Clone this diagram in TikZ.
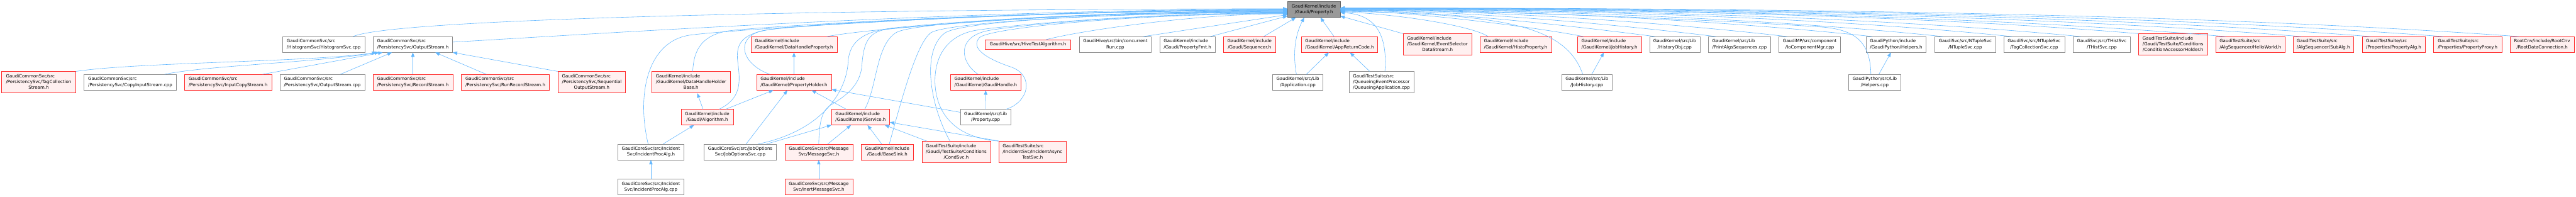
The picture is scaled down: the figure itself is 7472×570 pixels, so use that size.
\documentclass[tikz,border=0pt]{standalone}
\usepackage{fontspec}
\setmainfont{DejaVu Sans}
\usetikzlibrary{arrows.meta,calc}
\definecolor{edgec}{HTML}{63B8FF}
\definecolor{redd}{HTML}{FF2A2A}
\definecolor{redf}{HTML}{FFF0F0}
\definecolor{grayd}{HTML}{8C8C8C}
\definecolor{rootf}{HTML}{999999}
\definecolor{rootd}{HTML}{666666}
\newcommand\nlab[2]{\begin{tabular}{@{}l@{}}#1\\\multicolumn{1}{@{}c@{}}{#2}\end{tabular}}
\newcommand\farR[3]{\draw[edge] let \p1=(#1), \p2=([yshift=#2pt]P.east), \n1={0.3*(\x1-\x2)} in (\p1) .. controls +(-\n1,#3) and +(\n1,0) .. (\p2);}
\tikzset{
  nbox/.style={rectangle, draw, line width=1.1pt, inner sep=0pt, minimum height=45pt, font=\fontsize{12.8pt}{17pt}\selectfont, text=black},
  redn/.style={nbox, draw=redd, fill=redf},
  grayn/.style={nbox, draw=grayd, fill=white},
  rootn/.style={nbox, draw=rootd, fill=rootf},
  edge/.style={draw=edgec, line width=1.1pt, -{Triangle[length=13pt,width=10pt]}},
}
\begin{document}
\begin{tikzpicture}[x=1pt,y=1pt]
\fill[white] (0,0) rectangle (7472,570);
\useasboundingbox (0,0) rectangle (7472,570);
% root
\node[rootn, minimum width=152pt] (P) at (3811,542.5) {\nlab{GaudiKernel/include}{/Gaudi/Property.h}};
% row 1
\node[grayn, minimum width=238.4pt] (hsvc) at (938.8,441) {\nlab{GaudiCommonSvc/src}{/HistogramSvc/HistogramSvc.cpp}};
\node[grayn, minimum width=230.3pt] (osh) at (1197.5,441) {\nlab{GaudiCommonSvc/src}{/PersistencySvc/OutputStream.h}};
\node[redn, minimum width=250pt] (dhp) at (2303,441) {\nlab{GaudiKernel/include}{/GaudiKernel/DataHandleProperty.h}};
\node[redn, minimum width=248pt, minimum height=27.5pt] (hive) at (2981.6,441) {GaudiHive/src/HiveTestAlgorithm.h};
\node[grayn, minimum width=209pt] (crun) at (3235.1,441) {\nlab{GaudiHive/src/bin/concurrent}{Run.cpp}};
\node[grayn, minimum width=160.5pt] (pfmt) at (3444.2,441) {\nlab{GaudiKernel/include}{/Gaudi/PropertyFmt.h}};
\node[redn, minimum width=151.4pt] (seq) at (3624.3,441) {\nlab{GaudiKernel/include}{/Gaudi/Sequencer.h}};
\node[redn, minimum width=221.6pt] (arc) at (3885.5,441) {\nlab{GaudiKernel/include}{/GaudiKernel/AppReturnCode.h}};
\node[redn, minimum width=199pt, minimum height=62pt] (esds) at (4169.5,441) {\nlab{GaudiKernel/include\\/GaudiKernel/EventSelector}{DataStream.h}};
\node[redn, minimum width=207.3pt] (hprop) at (4396.3,441) {\nlab{GaudiKernel/include}{/GaudiKernel/HistoProperty.h}};
\node[redn, minimum width=185.5pt] (jhh) at (4668.2,441) {\nlab{GaudiKernel/include}{/GaudiKernel/JobHistory.h}};
\node[grayn, minimum width=146pt] (hobj) at (4857.5,441) {\nlab{GaudiKernel/src/Lib}{/HistoryObj.cpp}};
\node[grayn, minimum width=180.5pt] (pas) at (5045.7,441) {\nlab{GaudiKernel/src/Lib}{/PrintAlgsSequences.cpp}};
\node[grayn, minimum width=179.4pt] (iocm) at (5249.3,441) {\nlab{GaudiMP/src/component}{/IoComponentMgr.cpp}};
\node[grayn, minimum width=174pt] (helph) at (5500,441) {\nlab{GaudiPython/include}{/GaudiPython/Helpers.h}};
\node[grayn, minimum width=176.6pt] (ntup) at (5700.3,441) {\nlab{GaudiSvc/src/NTupleSvc}{/NTupleSvc.cpp}};
\node[grayn, minimum width=176.6pt] (tcs) at (5900.3,441) {\nlab{GaudiSvc/src/NTupleSvc}{/TagCollectionSvc.cpp}};
\node[grayn, minimum width=166.6pt] (thist) at (6096.3,441) {\nlab{GaudiSvc/src/THistSvc}{/THistSvc.cpp}};
\node[redn, minimum width=200pt, minimum height=62pt] (cah) at (6303,441) {\nlab{GaudiTestSuite/include\\/Gaudi/TestSuite/Conditions}{/ConditionAccessorHolder.h}};
\node[redn, minimum width=201pt] (hello) at (6527.5,441) {\nlab{GaudiTestSuite/src}{/AlgSequencer/HelloWorld.h}};
\node[redn, minimum width=176pt] (subalg) at (6739,441) {\nlab{GaudiTestSuite/src}{/AlgSequencer/SubAlg.h}};
\node[redn, minimum width=183pt] (palg) at (6943,441) {\nlab{GaudiTestSuite/src}{/Properties/PropertyAlg.h}};
\node[redn, minimum width=198pt] (pproxy) at (7157.6,441) {\nlab{GaudiTestSuite/src}{/Properties/PropertyProxy.h}};
\node[redn, minimum width=187pt] (rdc) at (7373.5,441) {\nlab{RootCnv/include/RootCnv}{/RootDataConnection.h}};
% row 2
\node[redn, minimum width=214.7pt, minimum height=62pt] (tcst) at (112.2,331.5) {\nlab{GaudiCommonSvc/src\\/PersistencySvc/TagCollection}{Stream.h}};
\node[grayn, minimum width=267.7pt] (cis) at (377.5,331.5) {\nlab{GaudiCommonSvc/src}{/PersistencySvc/CopyInputStream.cpp}};
\node[redn, minimum width=252.3pt] (ics) at (661.6,331.5) {\nlab{GaudiCommonSvc/src}{/PersistencySvc/InputCopyStream.h}};
\node[grayn, minimum width=246pt] (oscpp) at (935,331.5) {\nlab{GaudiCommonSvc/src}{/PersistencySvc/OutputStream.cpp}};
\node[redn, minimum width=232pt] (rs) at (1197.5,331.5) {\nlab{GaudiCommonSvc/src}{/PersistencySvc/RecordStream.h}};
\node[redn, minimum width=256.3pt] (rrs) at (1465.7,331.5) {\nlab{GaudiCommonSvc/src}{/PersistencySvc/RunRecordStream.h}};
\node[redn, minimum width=196.3pt, minimum height=62pt] (sos) at (1716.5,331.5) {\nlab{GaudiCommonSvc/src\\/PersistencySvc/Sequential}{OutputStream.h}};
\node[redn, minimum width=228.8pt, minimum height=62pt] (dhhb) at (2004.4,331.5) {\nlab{GaudiKernel/include\\/GaudiKernel/DataHandleHolder}{Base.h}};
\node[redn, minimum width=217.5pt] (ph) at (2303,331.5) {\nlab{GaudiKernel/include}{/GaudiKernel/PropertyHolder.h}};
\node[redn, minimum width=205pt] (gh) at (2859.1,331.5) {\nlab{GaudiKernel/include}{/GaudiKernel/GaudiHandle.h}};
\node[grayn, minimum width=146.6pt] (app) at (3764.3,331.5) {\nlab{GaudiKernel/src/Lib}{/Application.cpp}};
\node[grayn, minimum width=187.3pt, minimum height=62pt] (qapp) at (4007.1,331.5) {\nlab{GaudiTestSuite/src\\/QueueingEventProcessor}{/QueueingApplication.cpp}};
\node[grayn, minimum width=146.5pt] (jhcpp) at (4603,331.5) {\nlab{GaudiKernel/src/Lib}{/JobHistory.cpp}};
\node[grayn, minimum width=150.6pt] (helpcpp) at (5437.7,331.5) {\nlab{GaudiPython/src/Lib}{/Helpers.cpp}};
% row 3
\node[redn, minimum width=151.5pt] (alg) at (2051.2,230.5) {\nlab{GaudiKernel/include}{/Gaudi/Algorithm.h}};
\node[redn, minimum width=168.2pt] (svc) at (2496.3,230.5) {\nlab{GaudiKernel/include}{/GaudiKernel/Service.h}};
\node[grayn, minimum width=146pt] (pcpp) at (2858.7,230.5) {\nlab{GaudiKernel/src/Lib}{/Property.cpp}};
% row 4
\node[grayn, minimum width=191.5pt] (ipah) at (1888,129.5) {\nlab{GaudiCoreSvc/src/Incident}{Svc/IncidentProcAlg.h}};
\node[grayn, minimum width=209.4pt] (jos) at (2147.1,129.5) {\nlab{GaudiCoreSvc/src/JobOptions}{Svc/JobOptionsSvc.cpp}};
\node[redn, minimum width=197.2pt] (msh) at (2374.9,129.5) {\nlab{GaudiCoreSvc/src/Message}{Svc/MessageSvc.h}};
\node[redn, minimum width=151pt] (bsink) at (2573.5,129.5) {\nlab{GaudiKernel/include}{/Gaudi/BaseSink.h}};
\node[redn, minimum width=199pt, minimum height=62pt] (cond) at (2773.5,129.5) {\nlab{GaudiTestSuite/include\\/Gaudi/TestSuite/Conditions}{/CondSvc.h}};
\node[redn, minimum width=195.7pt, minimum height=62pt] (iats) at (2994.9,129.5) {\nlab{GaudiTestSuite/src\\/IncidentSvc/IncidentAsync}{TestSvc.h}};
% row 5
\node[grayn, minimum width=191.5pt] (ipacpp) at (1888,28) {\nlab{GaudiCoreSvc/src/Incident}{Svc/IncidentProcAlg.cpp}};
\node[redn, minimum width=197.2pt] (ims) at (2374.9,28) {\nlab{GaudiCoreSvc/src/Message}{Svc/InertMessageSvc.h}};

% edges to OutputStream.h
\draw[edge] (tcst.north east) .. controls (400,390) and (900,390) .. ([xshift=10pt]osh.south west);
\draw[edge] ([xshift=100pt]cis.north) .. controls (600,380) and (900,388) .. ([xshift=18pt]osh.south west);
\draw[edge] ([xshift=100pt]ics.north) -- ([xshift=28pt]osh.south west);
\draw[edge] ([xshift=52pt]oscpp.north) -- ([xshift=55pt]osh.south west);
\draw[edge] (rs.north) -- (osh.south);
\draw[edge] ([xshift=-55pt]rrs.north) -- ([xshift=65pt]osh.south);
\draw[edge] (sos.north west) -- (osh.south east);

% edges to Property.h from the left
\draw[edge] ([xshift=85pt]hsvc.north) .. controls (1150,520) and (2600,544.5) .. ([yshift=2pt]P.west);
\draw[edge] ([yshift=7pt]osh.east) .. controls (1700,470) and (2800,543.5) .. ([yshift=1pt]P.west);
\draw[edge] ([xshift=-8pt]ipah.north) .. controls (1845,300) and (1880,450) .. (2000,468) .. controls (2100,483) and (3000,542.5) .. (P.west);
\draw[edge] ([xshift=5pt]dhhb.north) .. controls (2012,430) and (2040,468) .. (2110,480) .. controls (2180,492) and (3000,541.5) .. ([yshift=-1pt]P.west);
\draw[edge] ([xshift=35pt]alg.north) .. controls (2150,285) and (2148,330) .. (2140,390) .. controls (2132,450) and (2160,472) .. (2230,484) .. controls (2300,496) and (3050,540.5) .. ([yshift=-2pt]P.west);
\draw[edge] ([xshift=-70pt]ph.north) .. controls (2150,385) and (2135,455) .. (2200,478) .. controls (2265,501) and (3050,539.5) .. ([yshift=-3pt]P.west);
\draw[edge] ([xshift=96pt]dhp.north) .. controls (2500,485) and (3100,538.5) .. ([yshift=-4pt]P.west);
\draw[edge] ([xshift=52pt]jos.north) .. controls (2380,190) and (2455,300) .. (2460,390) .. controls (2464,460) and (2520,482) .. (2600,490) .. controls (2680,498) and (3100,537.5) .. ([yshift=-5pt]P.west);
\draw[edge] (msh.north) .. controls (2376,220) and (2385,250) .. (2410,266) .. controls (2450,290) and (2495,320) .. (2500,380) .. controls (2505,450) and (2520,480) .. (2580,486) .. controls (2640,492) and (3100,536.5) .. ([yshift=-6pt]P.west);
\draw[edge] ([xshift=12pt]svc.north) .. controls (2545,320) and (2540,440) .. (2600,476) .. controls (2650,505) and (3150,535.5) .. ([yshift=-7pt]P.west);
\draw[edge] ([xshift=6pt]bsink.north) .. controls (2620,300) and (2660,445) .. (2700,475) .. controls (2740,503) and (3200,534.5) .. ([yshift=-8pt]P.west);
\draw[edge] ([xshift=-18pt]cond.north) .. controls (2700,260) and (2670,420) .. (2740,474) .. controls (2790,510) and (3250,533.5) .. ([yshift=-9pt]P.west);
\draw[edge] (iats.north west) .. controls (2760,172) and (2715,250) .. (2712,330) .. controls (2710,420) and (2760,470) .. (2830,482) .. controls (2900,494) and (3300,532.5) .. ([yshift=-10pt]P.west);
\draw[edge] ([xshift=-22pt]gh.north) .. controls (2785,390) and (2775,460) .. (2860,480) .. controls (2920,494) and (3300,531.5) .. ([yshift=-11pt]P.west);
\draw[edge] ([xshift=60pt]pcpp.north) .. controls (2985,275) and (3000,350) .. (2935,375) .. controls (2860,400) and (2815,430) .. (2840,460) .. controls (2865,490) and (3300,530.5) .. ([yshift=-12pt]P.west);
\draw[edge] ([xshift=53pt]hive.north) .. controls (3150,485) and (3500,532) .. ([yshift=-13pt]P.west);
\draw[edge] ([xshift=81pt]crun.north) -- ([yshift=-15pt]P.west);
\draw[edge] ([xshift=66pt]pfmt.north) -- ([yshift=-19pt]P.west);
\draw[edge] ([xshift=41pt]seq.north) -- ([xshift=-52pt]P.south);
\draw[edge] ([xshift=-4pt]app.north) .. controls (3745,440) and (3768,490) .. ([xshift=-28pt]P.south);
\draw[edge] ([xshift=-16pt]arc.north) -- ([xshift=19pt]P.south);

% edges to Property.h from the right
\draw[edge] (esds.north west) -- ([yshift=-19pt]P.east);
\draw[edge] ([xshift=10pt]qapp.north) .. controls (4025,470) and (3990,528) .. ([yshift=-9pt]P.east);
\draw[edge] ([xshift=-80pt]hprop.north) .. controls (4280,490) and (4100,525) .. ([yshift=-6pt]P.east);
\draw[edge] ([xshift=-12pt]jhcpp.north) .. controls (4540,500) and (4350,528) .. ([yshift=-5pt]P.east);
\draw[edge] ([xshift=-75pt]jhh.north) .. controls (4480,487) and (4100,538) .. ([yshift=-4pt]P.east);
\farR{[xshift=-56pt]hobj.north}{-3}{35}
\farR{[xshift=-68pt]pas.north}{-2}{40}
\farR{[xshift=-65pt]iocm.north}{-1}{45}
\draw[edge] ([xshift=-11pt]helpcpp.north) .. controls (5425,450) and (5380,485) .. (5280,492) .. controls (4900,517) and (4300,540) .. ([yshift=-1.5pt]P.east);
\farR{[xshift=-69pt]helph.north}{0}{50}
\farR{[xshift=-65pt]ntup.north}{0.5}{55}
\farR{[xshift=-65pt]tcs.north}{1}{60}
\farR{[xshift=-61pt]thist.north}{1.5}{62}
\farR{cah.north west}{2}{58}
\farR{[xshift=-72pt]hello.north}{2.5}{66}
\farR{[xshift=-64pt]subalg.north}{3}{68}
\farR{[xshift=-67pt]palg.north}{3.5}{70}
\farR{[xshift=-71pt]pproxy.north}{4}{72}
\farR{[xshift=-67pt]rdc.north}{4.5}{74}

% other edges
\draw[edge] ([xshift=-12pt]alg.north) -- ([xshift=18pt]dhhb.south);
\draw[edge] ([xshift=54pt]alg.north) -- ([xshift=-60pt]ph.south);
\draw[edge] (ph.north) -- (dhp.south);
\draw[edge] ([xshift=17pt]jos.north) -- ([xshift=-19pt]ph.south);
\draw[edge] ([xshift=76pt]jos.north) -- (svc.south west);
\draw[edge] ([xshift=-42pt]svc.north) -- ([xshift=51pt]ph.south);
\draw[edge] ([yshift=14pt]pcpp.west) -- ([yshift=2pt]ph.south east);
\draw[edge] (pcpp.north) -- (gh.south);
\draw[edge] ([xshift=35pt]ipah.north) -- ([xshift=-38pt]alg.south);
\draw[edge] (ipacpp.north) -- (ipah.south);
\draw[edge] ([xshift=26pt]msh.north) -- ([xshift=-28pt]svc.south);
\draw[edge] (ims.north) -- (msh.south);
\draw[edge] ([xshift=-16pt]bsink.north) -- ([xshift=20pt]svc.south);
\draw[edge] ([xshift=-85pt]cond.north) -- ([xshift=70pt]svc.south);
\draw[edge] ([xshift=2pt]iats.north west) -- ([yshift=-15pt]svc.east);
\draw[edge] ([xshift=25pt]app.north) -- ([xshift=-31pt]arc.south);
\draw[edge] ([xshift=-34pt]qapp.north) -- ([xshift=30pt]arc.south);
\draw[edge] ([xshift=14pt]jhcpp.north) -- ([xshift=-16pt]jhh.south);
\draw[edge] ([xshift=12pt]helpcpp.north) -- ([xshift=-15pt]helph.south);
\end{tikzpicture}
\end{document}
